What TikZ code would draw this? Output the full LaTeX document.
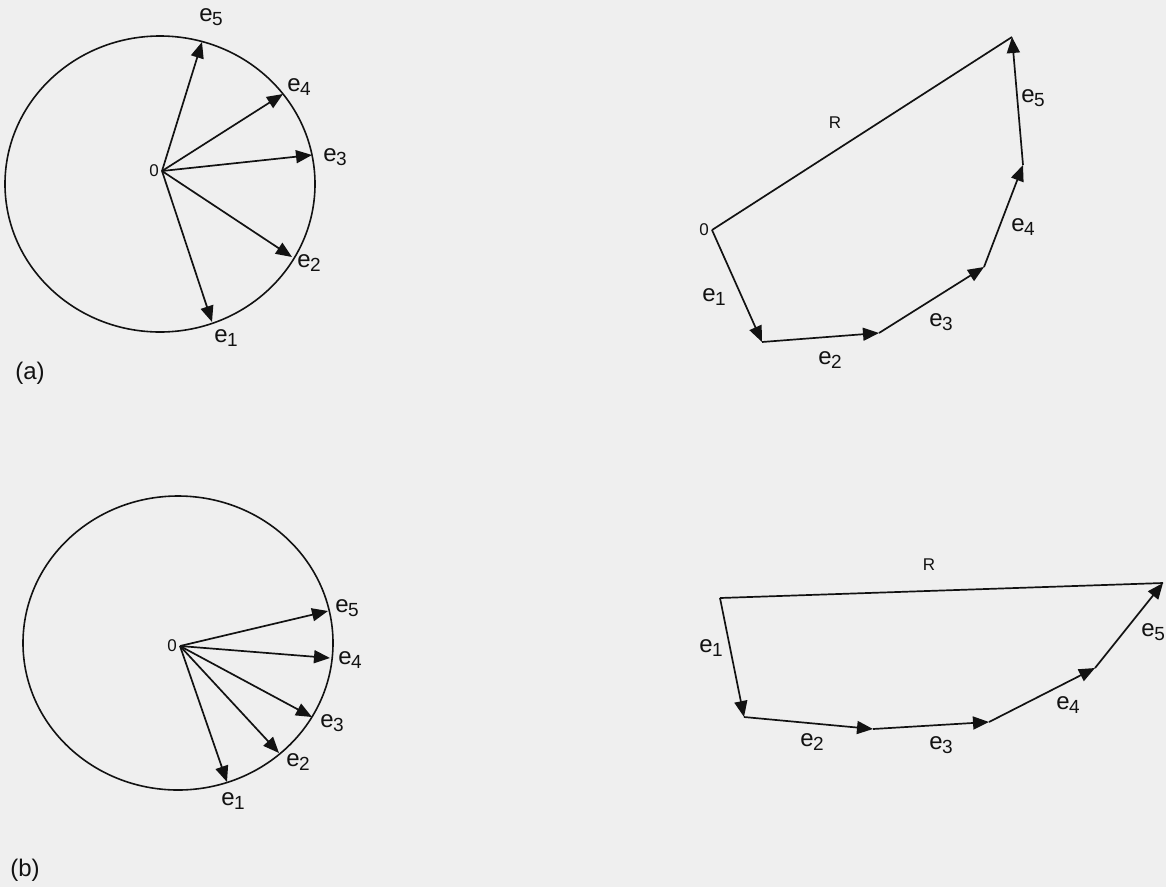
\documentclass[tikz,border=0pt]{standalone}
\usepackage{fontspec}
\setmainfont{Liberation Sans}
\usetikzlibrary{arrows.meta,positioning}
\definecolor{paper}{HTML}{EFEFEF}
\definecolor{ink}{HTML}{121212}
\newcommand{\evec}[1]{e\kern-0.5pt\raisebox{-4.5pt}{\fontsize{19}{19}\selectfont #1}}

\begin{document}
\begin{tikzpicture}[x=1pt, y=-1pt,
        vec/.style={-{Triangle[length=16pt,width=13pt]}, line width=1.7pt, draw=ink},
        res/.style={line width=1.7pt, draw=ink},
        rim/.style={draw=ink, line width=1.6pt},
        lab/.style={font=\fontsize{24}{24}\selectfont, text=ink, inner sep=0pt},
        small/.style={font=\fontsize{17}{17}\selectfont, text=ink, inner sep=0pt}]
        \fill[paper] (0,0) rectangle (1166,887);
        \useasboundingbox (0,0) rectangle (1166,887);

        % (a) circle
        \coordinate (Ca) at (160,184);
        \draw[rim] (Ca) ellipse [x radius=155pt, y radius=148pt];
        \coordinate (Oa) at (162,171);
        \coordinate (a1) at (212,322);
        \coordinate (a2) at (292,257);
        \coordinate (a3) at (312,155);
        \coordinate (a4) at (283,94);
        \coordinate (a5) at (202,42);
        \foreach \i in {1,...,5}
            \draw[vec] (Oa) -- (a\i);
        \node (Oal) [small, left=3pt of Oa] {0};
        \node (a1l) [lab] at (226,338) {\evec{1}};
        \node (a2l) [lab] at (309,263) {\evec{2}};
        \node (a3l) [lab] at (335,157) {\evec{3}};
        \node (a4l) [lab] at (299,87) {\evec{4}};
        \node (a5l) [lab] at (211,17) {\evec{5}};
        \node (capa) [lab] at (30,373) {(a)};

        % (a) polygon
        \coordinate (Pa) at (712,230);
        \coordinate (Pa1) at (762,342);
        \coordinate (Pa2) at (879,333);
        \coordinate (Pa3) at (984,267);
        \coordinate (Pa4) at (1023,165);
        \coordinate (Pa5) at (1012,37);
        \draw[res] (Pa) -- (Pa5);
        \foreach \s/\t in {Pa/Pa1, Pa1/Pa2, Pa2/Pa3, Pa3/Pa4, Pa4/Pa5}
            \draw[vec] (\s) -- (\t);
        \node (Pal) [small, left=3pt of Pa] {0};
        \node (Ra) [small] at (835,123) {R};
        \node (Pa1l) [lab] at (714,297) {\evec{1}};
        \node (Pa2l) [lab] at (830,360) {\evec{2}};
        \node (Pa3l) [lab] at (941,322) {\evec{3}};
        \node (Pa4l) [lab] at (1023,227) {\evec{4}};
        \node (Pa5l) [lab] at (1033,98) {\evec{5}};

        % (b) circle
        \coordinate (Cb) at (178,643);
        \draw[rim] (Cb) ellipse [x radius=155pt, y radius=147pt];
        \coordinate (Ob) at (180,646);
        \coordinate (b1) at (227,782);
        \coordinate (b2) at (279,753);
        \coordinate (b3) at (312,717);
        \coordinate (b4) at (330,658);
        \coordinate (b5) at (328,611);
        \foreach \i in {1,...,5}
            \draw[vec] (Ob) -- (b\i);
        \node (Obl) [small, left=3pt of Ob] {0};
        \node (b1l) [lab] at (233,801) {\evec{1}};
        \node (b2l) [lab] at (298,762) {\evec{2}};
        \node (b3l) [lab] at (332,723) {\evec{3}};
        \node (b4l) [lab] at (350,660) {\evec{4}};
        \node (b5l) [lab] at (347,608) {\evec{5}};
        \node (capb) [lab] at (25,870) {(b)};

        % (b) polygon
        \coordinate (Pb) at (720,598);
        \coordinate (Pb1) at (744,717);
        \coordinate (Pb2) at (873,729);
        \coordinate (Pb3) at (989,722);
        \coordinate (Pb4) at (1095,668);
        \coordinate (Pb5) at (1163,583);
        \draw[res] (Pb) -- (Pb5);
        \foreach \s/\t in {Pb/Pb1, Pb1/Pb2, Pb2/Pb3, Pb3/Pb4, Pb4/Pb5}
            \draw[vec] (\s) -- (\t);
        \node (Rb) [small] at (929,565) {R};
        \node (Pb1l) [lab] at (711,648) {\evec{1}};
        \node (Pb2l) [lab] at (812,742) {\evec{2}};
        \node (Pb3l) [lab] at (941,745) {\evec{3}};
        \node (Pb4l) [lab] at (1068,705) {\evec{4}};
        \node (Pb5l) [lab, anchor=east] at (1165,632) {\evec{5}};
    \end{tikzpicture}
\end{document}
